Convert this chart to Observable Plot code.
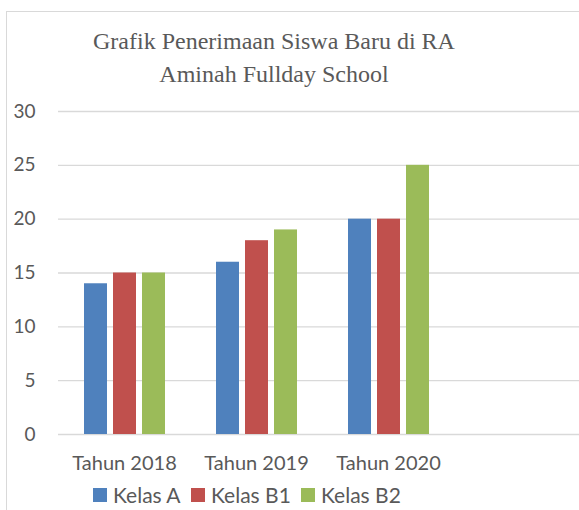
<!DOCTYPE html>
<html><head><meta charset="utf-8">
<script src="https://cdn.jsdelivr.net/npm/d3@7"></script>
<script src="https://cdn.jsdelivr.net/npm/@observablehq/plot@0.6"></script>
<style>
html,body{margin:0;padding:0;overflow:hidden;background:#fff;width:579px;height:510px;}
#frame{position:absolute;left:6px;top:11px;width:700px;height:600px;border-left:1px solid #d9d9d9;border-top:1px solid #d9d9d9;box-sizing:border-box;}
#title{position:absolute;left:0;top:25px;width:548px;text-align:center;font-family:"Liberation Serif",serif;font-size:24px;line-height:33px;color:#595959;}
#chart{position:absolute;left:0;top:0;width:586px;}
#chart svg{max-width:none !important;}
#legend{position:absolute;left:0;top:0;font-family:Lato,sans-serif;font-size:21px;color:#595959;white-space:nowrap;}
#legend span.sw{position:absolute;width:14px;height:14px;top:488px;}
#legend span.tx{position:absolute;top:480px;line-height:30px;}
</style></head>
<body>
<div id="frame"></div>
<div id="chart"></div>
<div id="title">Grafik Penerimaan Siswa Baru di RA<br>Aminah Fullday School</div>
<div id="legend"></div>
<script>
const years = ["Tahun 2018", "Tahun 2019", "Tahun 2020", ""];
const series = ["Kelas A", "Kelas B1", "Kelas B2"];
const colors = ["#4f81bd", "#c0504d", "#9bbb59"];
const kelasA = [14, 16, 20, null];
const kelasB1 = [15, 18, 20, null];
const kelasB2 = [15, 19, 25, null];
const yTicks = [0, 5, 10, 15, 20, 25, 30];

const values = [kelasA, kelasB1, kelasB2];
const data = [];
series.forEach((s, i) => values[i].forEach((v, j) => data.push({year: years[j], kelas: s, value: v})));

const plot = Plot.plot({
  width: 586,
  height: 480,
  marginLeft: 58,
  marginRight: 0,
  marginTop: 111,
  marginBottom: 46,
  style: {fontFamily: "Lato, sans-serif", fontSize: "19px", color: "#595959", background: "transparent", overflow: "visible", maxWidth: "none"},
  facet: {data, x: "year"},
  fx: {domain: years, padding: 0, label: null, tickSize: 0, tickPadding: 21, fontSize: 20},
  x: {domain: series, padding: 0.22, paddingOuter: 0.847, axis: null},
  y: {domain: [0, 30], ticks: yTicks, label: null, tickSize: 0, tickPadding: 23, grid: false},
  color: {domain: series, range: colors},
  marks: [
    Plot.ruleY(yTicks, {stroke: "#d9d9d9", strokeWidth: 1.3}),
    Plot.barY(data, {x: "kelas", y: "value", fill: "kelas"})
  ]
});
document.getElementById("chart").appendChild(plot);
plot.querySelectorAll("[aria-label='fx-axis tick label'] text, [aria-label='fx-axis'] text").forEach(t => t.setAttribute("font-size", 20));

const lg = document.getElementById("legend");
const swLeft = [93, 191, 301];
series.forEach((s, i) => {
  const sw = document.createElement("span"); sw.className = "sw";
  sw.style.background = colors[i]; sw.style.left = swLeft[i] + "px";
  const tx = document.createElement("span"); tx.className = "tx";
  tx.style.left = (swLeft[i] + 20) + "px"; tx.textContent = s;
  lg.appendChild(sw); lg.appendChild(tx);
});
</script>
</body></html>
